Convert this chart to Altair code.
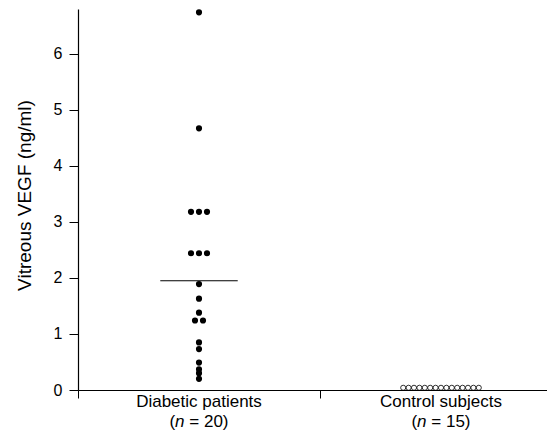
import altair as alt
import pandas as pd

# ---- data ----
categories = ["Diabetic patients", "Control subjects"]
n_counts = [20, 15]
diabetic_vegf = [6.74, 4.67, 3.18, 3.18, 3.18, 2.44, 2.44, 2.44, 1.89, 1.63,
                 1.38, 1.24, 1.24, 0.85, 0.73, 0.49, 0.37, 0.30, 0.20]
control_vegf = [0.04, 0.04, 0.04, 0.04, 0.04, 0.04, 0.04, 0.04, 0.04, 0.04,
                0.04, 0.04, 0.04, 0.04, 0.04]
diabetic_mean = 1.95
y_ticks = [0, 1, 2, 3, 4, 5, 6]

# ---- layout / style parameters ----
W, H = 469, 381
PX_PER_UNIT = 242.0
X_MAX = W / PX_PER_UNIT
centers = [0.5, 1.5]
spacing = [8 / PX_PER_UNIT, 5.4 / PX_PER_UNIT]   # horizontal spread of tied dots
mean_half = 0.16
FONT = "Liberation Sans"
LFS = 17


def spread(values, center, step):
    """dot-plot arrangement: tied values are spread side by side"""
    xs = []
    counts = {}
    for v in values:
        counts[v] = counts.get(v, 0) + 1
    seen = {}
    for v in values:
        k = counts[v]
        i = seen.get(v, 0)
        seen[v] = i + 1
        xs.append(center + (i - (k - 1) / 2) * step)
    return xs


df_d = pd.DataFrame({"x": spread(diabetic_vegf, centers[0], spacing[0]),
                     "y": diabetic_vegf})
df_c = pd.DataFrame({"x": spread(control_vegf, centers[1], spacing[1]),
                     "y": control_vegf})
df_mean = pd.DataFrame({"x": [centers[0] - mean_half],
                        "x2": [centers[0] + mean_half],
                        "y": [diabetic_mean]})
df_lab = pd.DataFrame({"x": centers, "name": categories,
                       "rest": [f"= {n})" for n in n_counts]})

xscale = alt.Scale(domain=[0, X_MAX], nice=False, zero=False)
yscale = alt.Scale(domain=[0, 6.8], nice=False)

xaxis = alt.Axis(values=[0, 1], labels=False, title=None, grid=False,
                 tickSize=8, domainColor="black", tickColor="black")
yaxis = alt.Axis(values=y_ticks, format="d", grid=False, tickSize=9,
                 labelPadding=7, labelFontSize=16, labelFont=FONT,
                 labelColor="black", domainColor="black", tickColor="black",
                 title="Vitreous VEGF (ng/ml)", titleFont=FONT,
                 titleFontSize=19, titleFontWeight="normal", titleColor="black",
                 titleX=-44, titleY=186)

base_x = alt.X("x:Q", scale=xscale, axis=xaxis)
base_y = alt.Y("y:Q", scale=yscale, axis=yaxis)

dots = alt.Chart(df_d).mark_circle(size=38, color="black", opacity=1).encode(
    x=base_x, y=base_y)
open_dots = alt.Chart(df_c).mark_point(shape="circle", filled=False, size=26,
                                       color="black", strokeWidth=0.8,
                                       opacity=1).encode(
    x=alt.X("x:Q", scale=xscale), y=alt.Y("y:Q", scale=yscale))
mean_rule = alt.Chart(df_mean).mark_rule(color="black", strokeWidth=1.2).encode(
    x=alt.X("x:Q", scale=xscale), x2="x2:Q", y=alt.Y("y:Q", scale=yscale))

L1 = H + 17
L2 = H + 37
lab1 = alt.Chart(df_lab).mark_text(font=FONT, fontSize=LFS, color="black",
                                   baseline="alphabetic", align="center").encode(
    x=alt.X("x:Q", scale=xscale), y=alt.value(L1), text="name:N")
lab_paren = alt.Chart(df_lab).mark_text(font=FONT, fontSize=LFS, color="black",
                                        baseline="alphabetic", align="left",
                                        dx=-29.5, text="(").encode(
    x=alt.X("x:Q", scale=xscale), y=alt.value(L2))
lab_n = alt.Chart(df_lab).mark_text(font=FONT, fontSize=LFS, color="black",
                                    baseline="alphabetic", align="left",
                                    fontStyle="italic", dx=-23.9, text="n").encode(
    x=alt.X("x:Q", scale=xscale), y=alt.value(L2))
lab_rest = alt.Chart(df_lab).mark_text(font=FONT, fontSize=LFS, color="black",
                                       baseline="alphabetic", align="left",
                                       dx=-9.7).encode(
    x=alt.X("x:Q", scale=xscale), y=alt.value(L2), text="rest:N")

chart = alt.layer(mean_rule, dots, open_dots, lab1, lab_paren, lab_n, lab_rest).properties(
    width=W, height=H,
    autosize=alt.AutoSizeParams(type="none"),
    padding={"left": 70, "top": 1, "right": 0, "bottom": 41},
).configure_view(stroke=None).configure_axis(domainWidth=1.2)

chart.save("out.html", embed_options={"renderer": "svg", "actions": False})
